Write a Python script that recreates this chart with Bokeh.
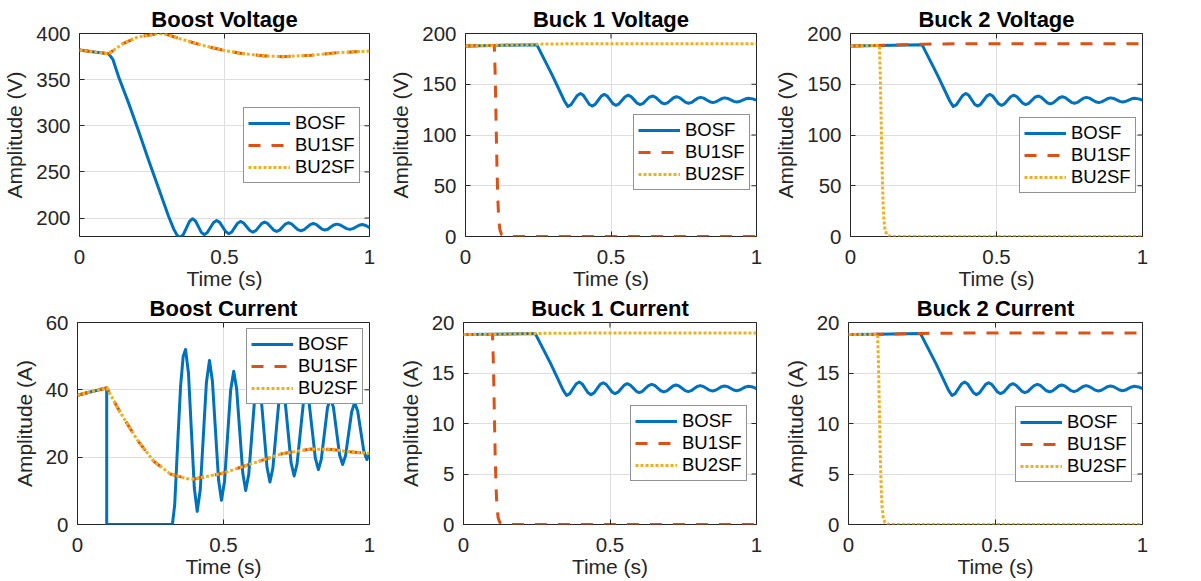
from bokeh.plotting import figure
from bokeh.layouts import column, row
from bokeh.models import Legend, LegendItem, FixedTicker
from bokeh.embed import file_html
from bokeh.resources import INLINE

# ---------------- data ----------------
series_names = ["BOSF", "BU1SF", "BU2SF"]
x_ticks = [0, 0.5, 1]
x_tick_labels = ["0", "0.5", "1"]

# Boost Voltage
bv_bosf_t = [0, 0.05, 0.1, 0.115, 0.136, 0.17, 0.204, 0.238, 0.273, 0.307, 0.325, 0.337, 0.347,
             0.3578, 0.3685, 0.3793, 0.390, 0.40, 0.41, 0.42, 0.430, 0.4408, 0.4515, 0.4623, 0.473,
             0.4835, 0.494, 0.5045, 0.515, 0.525, 0.535, 0.545, 0.555, 0.5658, 0.5765, 0.5873, 0.598,
             0.608, 0.618, 0.628, 0.638, 0.6485, 0.659, 0.6695, 0.680, 0.69, 0.70, 0.71, 0.720,
             0.731, 0.742, 0.753, 0.764, 0.7745, 0.785, 0.7955, 0.806, 0.816, 0.826, 0.836, 0.846,
             0.8563, 0.8665, 0.8768, 0.887, 0.8983, 0.9095, 0.9208, 0.932, 0.9428, 0.9535, 0.9643,
             0.975, 0.9875, 1.0]
bv_bosf_v = [382, 380, 378.2, 372, 352, 324, 294, 263, 232, 202, 188, 181, 179,
             182.0, 189.15, 196.3, 199.3, 196.8, 190.65, 184.5, 182.0, 184.25, 189.7, 195.15, 197.4,
             195.3, 190.2, 185.1, 183.0, 184.9, 189.65, 194.4, 196.3, 194.6, 190.55, 186.5, 184.8,
             186.4, 190.2, 194.0, 195.6, 194.1, 190.55, 187.0, 185.5, 186.9, 190.2, 193.5, 194.9,
             193.6, 190.55, 187.5, 186.2, 187.4, 190.15, 192.9, 194.1, 193.1, 190.55, 188.0, 187.0,
             187.9, 190.2, 192.5, 193.4, 192.6, 190.55, 188.5, 187.7, 188.5, 190.35, 192.2,
             193.0, 191.9, 189.5]
bv_bu_t = [0, 0.05, 0.1, 0.15, 0.2, 0.27, 0.3, 0.35, 0.42, 0.5, 0.56, 0.64, 0.7, 0.8, 0.88, 1.0]
bv_bu_v = [382, 380, 378, 389, 396, 400, 399, 394, 387.5, 381.5, 378.3, 375.6, 374.9, 376.5, 379, 381]

# Boost Current
bi_bosf_t = [0, 0.05, 0.1, 0.1, 0.325, 0.333, 0.343, 0.353, 0.362, 0.370,
             0.380, 0.390, 0.400, 0.410, 0.4205, 0.431, 0.4415, 0.452, 0.462, 0.4725, 0.483, 0.493,
             0.5035, 0.514, 0.5245, 0.535, 0.545, 0.5555, 0.566, 0.576, 0.5865, 0.597, 0.6075, 0.618,
             0.628, 0.6385, 0.649, 0.659, 0.669, 0.6795, 0.690, 0.700, 0.7105, 0.721, 0.7315, 0.742,
             0.752, 0.7625, 0.773, 0.783, 0.7935, 0.804, 0.8145, 0.825, 0.835, 0.8455, 0.856, 0.866,
             0.8765, 0.887, 0.8975, 0.908, 0.918, 0.9285, 0.939, 0.949, 0.9595, 0.970, 0.9805, 0.991, 1.0]
bi_bosf_a = [38.4, 39.5, 40.5, 0, 0, 6, 24, 41, 50, 52.0,
             45.0, 27.95, 10.9, 3.9, 10.4, 26.3, 42.2, 48.7, 42.6, 27.95, 13.3, 7.2,
             12.8, 26.35, 39.9, 45.5, 40.3, 27.8, 15.3, 10.1, 14.9, 26.55, 38.2, 43.0,
             38.6, 27.8, 17.0, 12.6, 16.7, 26.8, 36.9, 41.0, 37.1, 27.7, 18.3, 14.4,
             18.0, 26.85, 35.7, 39.3, 35.9, 27.8, 19.7, 16.3, 19.4, 27.0, 34.6, 37.7,
             34.8, 27.75, 20.7, 17.8, 20.5, 27.0, 33.5, 36.2, 33.7, 27.75, 21.8, 19.3, 21.0]
bi_bu_t = [0, 0.05, 0.1, 0.147, 0.204, 0.261, 0.318, 0.375, 0.4, 0.473, 0.5, 0.587, 0.7, 0.8, 0.87, 0.93, 1.0]
bi_bu_a = [38.4, 39.5, 40.6, 33.2, 25.2, 18.8, 15.0, 13.6, 13.5, 14.8, 15.3, 17.8, 21.0, 22.4, 22.3, 21.6, 21.1]

# Buck voltage (same in both buck panels)
kv_bosf_t = [0, 0.1, 0.245, 0.298, 0.34, 0.352,
             0.3628, 0.3735, 0.3843, 0.395, 0.405, 0.415, 0.425, 0.435, 0.4455, 0.456, 0.4665, 0.477,
             0.487, 0.497, 0.507, 0.517, 0.5275, 0.538, 0.5485, 0.559, 0.569, 0.5795, 0.590, 0.600,
             0.6105, 0.621, 0.6315, 0.642, 0.6525, 0.663, 0.6735, 0.684, 0.694, 0.7045, 0.715, 0.725,
             0.7355, 0.746, 0.7565, 0.767, 0.777, 0.7875, 0.798, 0.808, 0.8185, 0.829, 0.8395, 0.850,
             0.860, 0.8705, 0.881, 0.891, 0.901, 0.9115, 0.922, 0.932, 0.942, 0.9525, 0.963, 0.973,
             0.9865, 1.0]
kv_bosf_v = [187.8, 188.3, 189.0, 159.0, 133.5, 128.0,
             129.9, 134.45, 139.0, 140.9, 139.1, 134.7, 130.3, 128.5, 130.2, 134.25, 138.3, 140.0,
             138.4, 134.6, 130.8, 129.2, 130.7, 134.2, 137.7, 139.2, 137.9, 134.6, 131.3, 130.0,
             131.2, 134.2, 137.2, 138.4, 137.3, 134.55, 131.8, 130.7, 131.7, 134.2, 136.7, 137.7,
             136.8, 134.5, 132.2, 131.3, 132.1, 134.2, 136.3, 137.1, 136.3, 134.5, 132.7, 131.9,
             132.6, 134.25, 135.9, 136.6, 136.0, 134.55, 133.1, 132.5, 133.0, 134.35, 135.7, 136.2,
             135.6, 134.3]
kv_drop_t = [0, 0.05, 0.099, 0.102, 0.105, 0.108, 0.111, 0.114, 0.118, 0.124, 0.135, 0.15, 1.0]
kv_drop_v = [187.8, 188.0, 188.2, 160, 115, 70, 38, 18, 7, 2, 0.3, 0, 0]
kv_hold_t = [0, 0.1, 0.25, 0.4, 1.0]
kv_hold_v = [187.8, 188.3, 189.5, 190.0, 190.0]

# Buck current (same in both buck panels)
ki_bosf_t = kv_bosf_t
ki_bosf_a = [18.8, 18.83, 18.9, 15.9, 13.3, 12.77,
             12.96, 13.44, 13.91, 14.1, 13.92, 13.48, 13.04, 12.86, 13.03, 13.45, 13.87, 14.04,
             13.88, 13.5, 13.12, 12.96, 13.1, 13.45, 13.8, 13.94, 13.81, 13.5, 13.19, 13.06,
             13.18, 13.47, 13.76, 13.88, 13.77, 13.5, 13.24, 13.13, 13.23, 13.47, 13.71, 13.81,
             13.72, 13.49, 13.25, 13.16, 13.25, 13.46, 13.66, 13.75, 13.67, 13.49, 13.3, 13.22,
             13.29, 13.47, 13.65, 13.72, 13.65, 13.49, 13.32, 13.25, 13.31, 13.47, 13.62, 13.68,
             13.62, 13.45]
ki_drop_t = [0, 0.05, 0.099, 0.102, 0.105, 0.108, 0.111, 0.114, 0.118, 0.124, 0.135, 0.15, 1.0]
ki_drop_a = [18.8, 18.81, 18.82, 16.0, 11.5, 7.0, 3.8, 1.8, 0.7, 0.2, 0.03, 0, 0]
ki_hold_t = [0, 0.1, 0.25, 0.4, 1.0]
ki_hold_a = [18.8, 18.83, 18.92, 18.95, 18.95]

# ---------------- styling ----------------
FONT = "Liberation Sans"
AX = "#262626"
BLUE, ORANGE, YELLOW = "#0072BD", "#D95319", "#EDB120"

col_w = [386, 385, 430]
col_r = [17, 15, 59]
row_h = [292, 289]
row_t = [33, 29]
row_b = [56, 57]


def style_axis(ax, ticks, standoff, overrides=None):
    ax.ticker = FixedTicker(ticks=ticks)
    ax.axis_line_color = None
    ax.major_tick_in = 5
    ax.major_tick_out = 0
    ax.major_tick_line_color = AX
    ax.major_tick_line_width = 1
    ax.minor_tick_line_color = None
    ax.major_label_text_font = FONT
    ax.major_label_text_color = AX
    ax.major_label_text_font_size = "20.5px"
    ax.major_label_standoff = standoff
    ax.axis_label_text_font = FONT
    ax.axis_label_text_font_style = "normal"
    ax.axis_label_text_color = AX
    ax.axis_label_text_font_size = "21px"
    if overrides:
        ax.major_label_overrides = overrides


def make_panel(r, c, title, ylab, ylim, yticks, lines, legend_xy):
    p = figure(width=col_w[c], height=row_h[r], x_range=(0, 1), y_range=ylim,
               output_backend="svg", toolbar_location=None,
               min_border_left=77, min_border_right=col_r[c],
               min_border_top=row_t[r], min_border_bottom=row_b[r])
    p.background_fill_color = "white"
    p.border_fill_color = "white"
    p.outline_line_color = AX
    p.outline_line_width = 1
    p.title.text = title
    p.title.text_font = FONT
    p.title.text_font_size = "22px"
    p.title.text_font_style = "bold"
    p.title.text_color = "black"
    p.title.align = "center"
    p.title.standoff = 3

    xo = {t: l for t, l in zip(x_ticks, x_tick_labels)}
    style_axis(p.xaxis[0], x_ticks, 13, xo)
    p.xaxis[0].axis_label_standoff = 0
    style_axis(p.yaxis[0], yticks, 9)
    p.yaxis[0].axis_label_standoff = 7
    p.xaxis[0].axis_label = "Time (s)"
    p.yaxis[0].axis_label = ylab

    p.xgrid.ticker = FixedTicker(ticks=x_ticks)
    p.ygrid.ticker = FixedTicker(ticks=yticks)
    for g in (p.xgrid[0], p.ygrid[0]):
        g.grid_line_color = "#dedede"
        g.grid_line_width = 1

    # inward tick marks on the right and top edges of the box (clipped to the frame)
    p.scatter([x_ticks[-1]] * len(yticks), yticks, marker="dash", size=10,
              line_color=AX, line_width=1)
    p.scatter(x_ticks, [ylim[1]] * len(x_ticks), marker="dash", size=10, angle=1.5708,
              line_color=AX, line_width=1)

    items = []
    for (xs, ys, color, dash, name) in lines:
        rr = p.line(xs, ys, line_color=color, line_width=3, line_dash=dash,
                    line_join="round")
        items.append(LegendItem(label=name, renderers=[rr]))
    leg = Legend(items=items, location=legend_xy, padding=4, spacing=0, margin=0,
                 glyph_width=42, glyph_height=20, label_height=20, label_standoff=5,
                 label_text_font=FONT, label_text_font_size="18.5px", label_text_color="black",
                 border_line_color=AX, border_line_width=1,
                 background_fill_color="white", background_fill_alpha=1.0)
    p.add_layout(leg)
    return p


SOLID, DASH, DOT = "solid", "12 11", "3 2"

p1 = make_panel(0, 0, "Boost Voltage", "Amplitude (V)", (180, 400), [200, 250, 300, 350, 400],
                [(bv_bosf_t, bv_bosf_v, BLUE, SOLID, series_names[0]),
                 (bv_bu_t, bv_bu_v, ORANGE, DASH, series_names[1]),
                 (bv_bu_t, bv_bu_v, YELLOW, DOT, series_names[2])], (164, 53))
p2 = make_panel(0, 1, "Buck 1 Voltage", "Amplitude (V)", (0, 200), [0, 50, 100, 150, 200],
                [(kv_bosf_t, kv_bosf_v, BLUE, SOLID, series_names[0]),
                 (kv_drop_t, kv_drop_v, ORANGE, DASH, series_names[1]),
                 (kv_hold_t, kv_hold_v, YELLOW, DOT, series_names[2])], (168, 46))
p3 = make_panel(0, 2, "Buck 2 Voltage", "Amplitude (V)", (0, 200), [0, 50, 100, 150, 200],
                [(kv_bosf_t, kv_bosf_v, BLUE, SOLID, series_names[0]),
                 (kv_hold_t, kv_hold_v, ORANGE, DASH, series_names[1]),
                 (kv_drop_t, kv_drop_v, YELLOW, DOT, series_names[2])], (169, 43))
p4 = make_panel(1, 0, "Boost Current", "Amplitude (A)", (0, 60), [0, 20, 40, 60],
                [(bi_bosf_t, bi_bosf_a, BLUE, SOLID, series_names[0]),
                 (bi_bu_t, bi_bu_a, ORANGE, DASH, series_names[1]),
                 (bi_bu_t, bi_bu_a, YELLOW, DOT, series_names[2])], (169, 120))
p5 = make_panel(1, 1, "Buck 1 Current", "Amplitude (A)", (0, 20), [0, 5, 10, 15, 20],
                [(ki_bosf_t, ki_bosf_a, BLUE, SOLID, series_names[0]),
                 (ki_drop_t, ki_drop_a, ORANGE, DASH, series_names[1]),
                 (ki_hold_t, ki_hold_a, YELLOW, DOT, series_names[2])], (167, 43))
p6 = make_panel(1, 2, "Buck 2 Current", "Amplitude (A)", (0, 20), [0, 5, 10, 15, 20],
                [(ki_bosf_t, ki_bosf_a, BLUE, SOLID, series_names[0]),
                 (ki_hold_t, ki_hold_a, ORANGE, DASH, series_names[1]),
                 (ki_drop_t, ki_drop_a, YELLOW, DOT, series_names[2])], (167, 42))

layout = column(row(p1, p2, p3, spacing=0), row(p4, p5, p6, spacing=0), spacing=0)
open("out.html", "w").write(file_html(layout, INLINE))
